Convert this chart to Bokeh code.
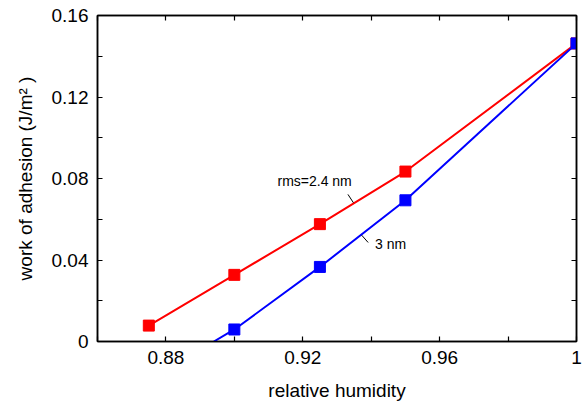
from bokeh.plotting import figure
from bokeh.models import (Range1d, LinearAxis, FixedTicker, CustomJSTickFormatter,
                          Label, Segment, ColumnDataSource)
from bokeh.embed import file_html
from bokeh.resources import INLINE

# Measured work of adhesion vs. relative humidity for two roughness values
rh_rms24 = [0.875, 0.90, 0.925, 0.95, 1.0]
wa_rms24 = [0.0078, 0.0327, 0.0576, 0.0834, 0.1463]

rh_rms3 = [0.90, 0.925, 0.95, 1.0]
wa_rms3 = [0.0059, 0.0366, 0.0693, 0.1463]

# The 3 nm curve continues down to zero adhesion
rh_rms3_zero = 0.894

x_major = [0.88, 0.92, 0.96, 1.0]
x_minor = [0.86, 0.90, 0.94, 0.98]
y_major = [0.0, 0.04, 0.08, 0.12, 0.16]
y_minor = [0.02, 0.06, 0.10, 0.14]

FONT = "Liberation Sans"

p = figure(width=584, height=403, output_backend="svg", toolbar_location=None,
           x_range=Range1d(0.86, 1.0), y_range=Range1d(0.0, 0.16),
           min_border_left=97, min_border_right=8, min_border_top=15,
           min_border_bottom=60, x_axis_location=None, y_axis_location=None)
p.grid.visible = False
p.outline_line_color = "black"
p.outline_line_width = 1.5
p.background_fill_color = "white"
p.border_fill_color = "white"

fmt = CustomJSTickFormatter(code="return Number(tick.toFixed(2)).toString();")


def make_axis(ticks, minor, labelled, title=None):
    ax = LinearAxis(ticker=FixedTicker(ticks=ticks, minor_ticks=minor), formatter=fmt)
    ax.axis_line_color = "black"
    ax.axis_line_width = 1.5
    ax.major_tick_in = 5
    ax.major_tick_out = 0
    ax.minor_tick_in = 5
    ax.minor_tick_out = 0
    ax.major_tick_line_width = 1.2
    ax.minor_tick_line_width = 1.2
    if labelled:
        ax.major_label_text_font = FONT
        ax.major_label_text_font_size = "19px"
        ax.major_label_text_color = "black"
        ax.major_label_standoff = 9
        ax.axis_label = title
        ax.axis_label_text_font = FONT
        ax.axis_label_text_font_size = "19px"
        ax.axis_label_text_font_style = "normal"
        ax.axis_label_text_color = "black"
        ax.axis_label_standoff = 13
    else:
        # tick marks only on the mirrored axes
        ax.major_label_text_color = None
        ax.major_label_text_font_size = "1px"
        ax.major_label_standoff = 0
    return ax


p.add_layout(make_axis(x_major, x_minor, True, "relative humidity"), "below")
p.add_layout(make_axis(y_major, y_minor, True, "work of adhesion (J/m\u00b2 )"), "left")
p.add_layout(make_axis(x_major, x_minor, False), "above")
p.add_layout(make_axis(y_major, y_minor, False), "right")

RED = "#ff0000"
BLUE = "#0000ff"

p.line(rh_rms24, wa_rms24, line_color=RED, line_width=2)
p.line([rh_rms3_zero] + rh_rms3, [0.0] + wa_rms3, line_color=BLUE, line_width=2)
p.scatter(rh_rms24, wa_rms24, marker="square", size=11, fill_color=RED, line_color=RED)
p.scatter(rh_rms3, wa_rms3, marker="square", size=11, fill_color=BLUE, line_color=BLUE)

# Curve labels with short leader lines
p.add_layout(Label(x=0.9126, y=0.0750, text="rms=2.4 nm", text_font=FONT,
                   text_font_size="14px", text_color="black"))
p.add_layout(Label(x=0.9411, y=0.0440, text="3 nm", text_font=FONT,
                   text_font_size="14px", text_color="black"))
leaders = ColumnDataSource(dict(x0=[0.9332, 0.9372], y0=[0.0722, 0.0522],
                                x1=[0.9348, 0.9391], y1=[0.0681, 0.0486]))
p.add_glyph(leaders, Segment(x0="x0", y0="y0", x1="x1", y1="y1",
                             line_color="black", line_width=1))

open("out.html", "w").write(file_html(p, INLINE))
